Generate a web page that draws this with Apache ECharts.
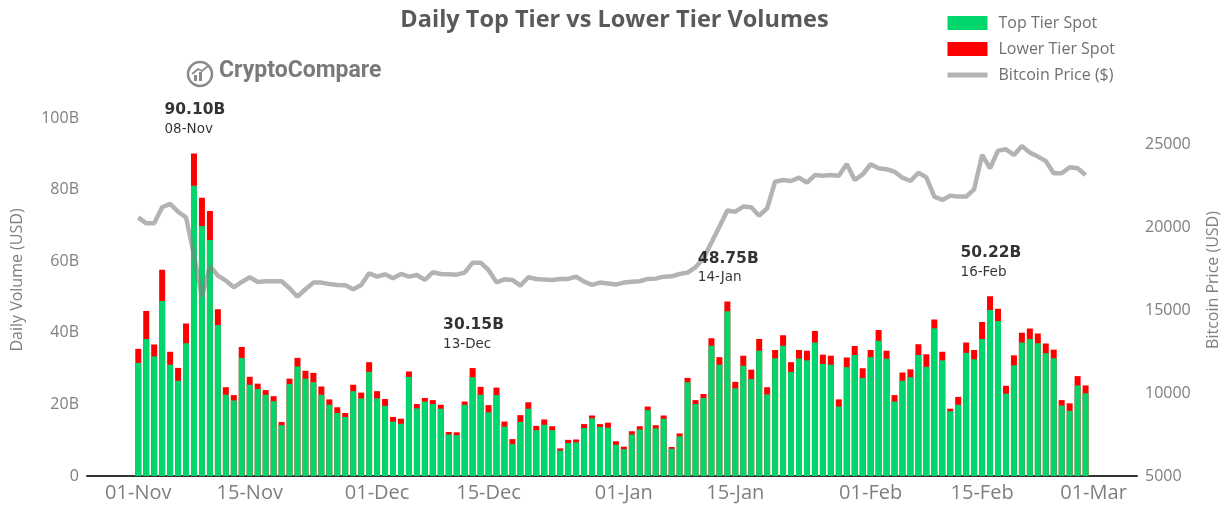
<!DOCTYPE html>
<html>
<head>
<meta charset="utf-8">
<script src="https://cdn.jsdelivr.net/npm/echarts@6/dist/echarts.min.js"></script>
<style>
  html, body { margin: 0; padding: 0; background: #fff; }
  #chart { width: 1229px; height: 508px; }
</style>
</head>
<body>
<div id="chart"></div>
<script>
  // daily volumes in billions USD, 01-Nov-2022 .. 28-Feb-2023
  const topTier = [
    31.6, 38.3, 33.4, 48.9, 31.1, 26.6, 37.1, 81.1, 69.8, 65.9,
    42.2, 22.7, 21.1, 33.0, 25.5, 24.3, 22.7, 20.9, 14.2, 25.7,
    30.6, 27.2, 26.2, 22.7, 19.9, 17.6, 16.5, 23.7, 21.7, 29.1,
    21.7, 19.6, 15.2, 14.6, 27.7, 18.9, 20.8, 20.1, 18.8, 11.6,
    11.4, 19.9, 27.6, 22.7, 17.8, 22.6, 13.8, 8.9, 15.1, 18.8,
    12.8, 14.3, 12.8, 7.1, 9.2, 9.4, 13.4, 16.1, 13.7, 13.5,
    8.7, 7.5, 11.6, 13.0, 18.4, 13.3, 16.0, 7.6, 11.1, 26.2,
    20.1, 21.8, 36.4, 31.1, 46.0, 24.5, 30.8, 27.1, 35.0, 22.8,
    32.9, 36.4, 29.1, 32.8, 32.3, 37.3, 31.3, 31.1, 19.4, 30.4,
    33.8, 27.4, 33.2, 37.8, 32.8, 20.8, 26.6, 27.6, 33.8, 30.5,
    41.3, 32.3, 18.1, 19.9, 34.4, 32.6, 38.3, 46.4, 43.3, 23.0,
    30.9, 37.3, 38.3, 37.1, 34.3, 32.9, 19.7, 18.2, 25.3, 23.1
  ];
  const lowerTier = [
    3.9, 7.8, 3.3, 8.7, 3.6, 3.6, 5.5, 9.0, 7.9, 8.1,
    4.4, 2.1, 1.5, 3.0, 2.2, 1.5, 1.3, 1.4, 0.9, 1.5,
    2.4, 2.2, 2.6, 2.3, 1.5, 1.6, 1.1, 1.8, 1.6, 2.7,
    2.0, 1.9, 1.3, 1.4, 1.5, 1.2, 1.0, 1.1, 1.1, 0.7,
    0.8, 0.9, 2.55, 2.2, 2.0, 2.1, 1.4, 1.4, 1.9, 1.8,
    1.2, 1.5, 1.1, 0.6, 0.9, 0.8, 1.1, 0.8, 0.8, 1.4,
    1.0, 0.7, 0.9, 0.9, 1.0, 0.9, 0.9, 0.5, 0.8, 1.2,
    1.1, 1.1, 2.1, 2.1, 2.75, 1.8, 2.8, 2.6, 3.3, 2.0,
    2.3, 2.9, 2.7, 2.4, 2.7, 3.2, 2.6, 2.5, 2.0, 2.7,
    2.5, 2.7, 2.0, 3.0, 2.2, 1.8, 2.3, 2.2, 3.0, 3.5,
    2.4, 2.4, 0.7, 2.2, 2.9, 2.6, 4.7, 3.82, 3.4, 2.2,
    2.8, 2.7, 2.9, 2.7, 2.7, 2.4, 1.5, 2.1, 2.6, 2.2
  ];
  const btcPrice = [
    20580, 20220, 20220, 21190, 21390, 20920, 20580, 18300, 15800, 17650,
    17070, 16770, 16370, 16690, 16970, 16690, 16730, 16730, 16730, 16310,
    15800, 16250, 16650, 16650, 16570, 16510, 16490, 16250, 16510, 17210,
    17010, 17150, 16910, 17170, 17010, 17110, 16810, 17270, 17170, 17150,
    17130, 17250, 17850, 17850, 17410, 16670, 16850, 16810, 16470, 16970,
    16870, 16830, 16810, 16870, 16870, 17010, 16710, 16510, 16650, 16600,
    16530, 16650, 16700, 16730, 16870, 16890, 17010, 17030, 17170, 17250,
    17570, 18110, 19070, 20020, 20990, 20920, 21230, 21190, 20680, 21130,
    22730, 22830, 22770, 22970, 22670, 23130, 23090, 23130, 23090, 23800,
    22830, 23170, 23780, 23540, 23480, 23330, 22970, 22770, 23270, 22990,
    21830, 21630, 21890, 21830, 21830, 22270, 24340, 23540, 24600, 24680,
    24340, 24880, 24480, 24240, 23980, 23240, 23240, 23600, 23540, 23130
  ];
  // x ticks (day index from 01-Nov)
  const tickDays = [0, 14, 30, 44, 61, 75, 92, 106, 120];
  const tickLabels = ['01-Nov', '15-Nov', '01-Dec', '15-Dec', '01-Jan', '15-Jan', '01-Feb', '15-Feb', '01-Mar'];
  // annotated peaks
  const peakDays = [7, 42, 74, 107];
  const peakTotals = [90.10, 30.15, 48.75, 50.22];
  const peakDates = ['08-Nov', '13-Dec', '14-Jan', '16-Feb'];

  const chart = echarts.init(document.getElementById('chart'));
  const grey = '#7f7f7f';
  const font = '"Open Sans", sans-serif';
  const lineGrey = 'rgba(128,128,128,0.6)';

  // lower tier sits on top of the top tier bar, so draw the full height in red behind the green
  const stackTop = topTier.map((v, i) => [i, v + lowerTier[i]]);

  const option = {
    animation: false,
    title: {
      text: 'Daily Top Tier vs Lower Tier Volumes',
      left: 'center',
      top: 3,
      textStyle: { fontFamily: font, fontWeight: 'bold', fontSize: 23.5, color: '#595959' }
    },
    legend: {
      orient: 'vertical',
      left: 945,
      top: 15,
      padding: 0,
      itemWidth: 40,
      itemHeight: 14,
      itemGap: 10,
      data: [
        { name: 'Top Tier Spot', icon: 'rect' },
        { name: 'Lower Tier Spot', icon: 'rect' },
        {
          name: 'Bitcoin Price ($)',
          itemStyle: { color: 'rgba(0,0,0,0)', opacity: 0, borderWidth: 0 },
          lineStyle: { width: 5, color: '#b3b3b3' }
        }
      ],
      textStyle: { fontFamily: font, fontSize: 16, color: '#6f6f6f', padding: [0, 0, 0, 6] }
    },
    graphic: [
      { type: 'circle', shape: { cx: 200, cy: 74, r: 12 }, style: { stroke: '#8a8a8a', lineWidth: 2.5, fill: 'none' } },
      { type: 'rect', shape: { x: 194, y: 75, width: 3, height: 6 }, style: { fill: '#8a8a8a' } },
      { type: 'rect', shape: { x: 199, y: 72, width: 3, height: 9 }, style: { fill: '#8a8a8a' } },
      { type: 'polyline', shape: { points: [[192, 74], [198, 69], [202, 71], [208, 66]] }, style: { stroke: '#8a8a8a', lineWidth: 1.8, fill: 'none' } },
      {
        type: 'text', left: 219, top: 60,
        style: { text: 'CryptoCompare', font: 'bold 23px Roboto', fill: '#7a7a7a' }
      }
    ],
    grid: { left: 87, right: 92, top: 118, bottom: 32 },
    xAxis: {
      type: 'value',
      min: -6.44,
      max: 125.46,
      axisLine: { show: true, lineStyle: { color: '#333', width: 2 } },
      axisTick: { show: false },
      splitLine: { show: false },
      axisLabel: {
        customValues: tickDays,
        formatter: (v) => tickLabels[tickDays.indexOf(Math.round(v))] || '',
        color: grey,
        fontFamily: font,
        fontSize: 20,
        margin: 7
      }
    },
    yAxis: [
      {
        type: 'value',
        min: 0,
        max: 100,
        interval: 20,
        name: 'Daily Volume (USD)',
        nameLocation: 'middle',
        nameRotate: 90,
        nameGap: 62,
        nameTextStyle: { color: grey, fontFamily: font, fontSize: 16, padding: [0, 0, 0, 34] },
        axisLine: { show: false },
        axisTick: { show: false },
        splitLine: { show: false },
        axisLabel: {
          color: grey, fontFamily: font, fontSize: 16, margin: 8,
          formatter: (v) => (v === 0 ? '0' : v + 'B')
        }
      },
      {
        type: 'value',
        min: 5000,
        max: 26566,
        interval: 5000,
        name: 'Bitcoin Price (USD)',
        nameLocation: 'middle',
        nameRotate: 90,
        nameGap: 68,
        nameTextStyle: { color: grey, fontFamily: font, fontSize: 16, padding: [0, 0, 0, 34] },
        axisLine: { show: false },
        axisTick: { show: false },
        splitLine: { show: false },
        axisLabel: {
          color: grey, fontFamily: font, fontSize: 16, margin: 8, showMaxLabel: false,
          formatter: (v) => String(v)
        }
      }
    ],
    series: [
      {
        name: 'Lower Tier Spot',
        type: 'bar',
        barWidth: 6,
        barGap: '-100%',
        itemStyle: { color: '#ff0000' },
        data: stackTop
      },
      {
        name: 'Top Tier Spot',
        type: 'bar',
        barWidth: 6,
        barGap: '-100%',
        itemStyle: { color: '#00d66b' },
        data: topTier.map((v, i) => [i, v])
      },
      {
        name: 'Bitcoin Price ($)',
        type: 'line',
        yAxisIndex: 1,
        symbol: 'none',
        z: 5,
        itemStyle: { color: lineGrey },
        lineStyle: { color: lineGrey, width: 4.5 },
        data: btcPrice.map((v, i) => [i, v])
      },
      {
        type: 'scatter',
        symbolSize: 1,
        itemStyle: { color: 'rgba(0,0,0,0)' },
        z: 6,
        label: {
          show: true,
          position: [-29, -52],
          align: 'left',
          verticalAlign: 'top',
          formatter: (p) => '{a|' + peakTotals[p.dataIndex].toFixed(2) + 'B}\n{b|' + peakDates[p.dataIndex] + '}',
          rich: {
            a: { fontFamily: 'DejaVu Sans', fontWeight: 'bold', fontSize: 15.5, color: '#000', lineHeight: 19 },
            b: { fontFamily: 'DejaVu Sans', fontSize: 13.5, color: '#000', lineHeight: 19 }
          }
        },
        data: peakDays.map((d, k) => [d, peakTotals[k]])
      }
    ]
  };
  chart.setOption(option);
</script>
</body>
</html>
